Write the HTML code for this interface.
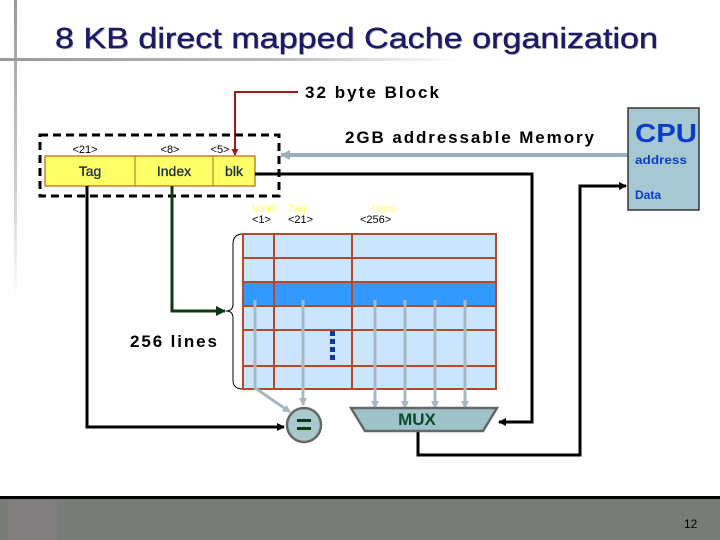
<!DOCTYPE html>
<html><head><meta charset="utf-8"><style>
body{margin:0;width:720px;height:540px;overflow:hidden;background:#fff;font-family:"Liberation Sans",Arial,sans-serif;}
</style></head><body>
<svg width="720" height="540" viewBox="0 0 720 540" xmlns="http://www.w3.org/2000/svg" style="position:absolute;left:0;top:0">
<defs>
<linearGradient id="hb" x1="0" x2="1"><stop offset="0" stop-color="#999"/><stop offset="0.6" stop-color="#bbb"/><stop offset="1" stop-color="#fff"/></linearGradient>
<linearGradient id="vb" x1="0" y1="0" x2="0" y2="1"><stop offset="0" stop-color="#999"/><stop offset="0.6" stop-color="#ccc"/><stop offset="1" stop-color="#fff"/></linearGradient>
<marker id="ab" markerWidth="8" markerHeight="8" refX="7" refY="4" orient="auto" markerUnits="userSpaceOnUse"><path d="M0,0 L8,4 L0,8 z" fill="#000"/></marker>
<marker id="ag" markerWidth="10" markerHeight="10" refX="9" refY="5" orient="auto" markerUnits="userSpaceOnUse"><path d="M0,0 L10,5 L0,10 z" fill="#0a3a10"/></marker>
<marker id="ar" markerWidth="7" markerHeight="7" refX="6" refY="3.5" orient="auto" markerUnits="userSpaceOnUse"><path d="M0,0 L7,3.5 L0,7 z" fill="#9a1a1a"/></marker>
<marker id="agr" markerWidth="8" markerHeight="8" refX="7" refY="4" orient="auto" markerUnits="userSpaceOnUse"><path d="M0,0 L8,4 L0,8 z" fill="#a8b8c0"/></marker>
<marker id="abl" markerWidth="10" markerHeight="10" refX="9" refY="5" orient="auto" markerUnits="userSpaceOnUse"><path d="M0,0 L10,5 L0,10 z" fill="#9ab0bc"/></marker>
</defs>
<rect x="14" y="0" width="3" height="300" fill="url(#vb)"/>
<rect x="0" y="58" width="460" height="3" fill="url(#hb)"/>
<text x="56" y="49" font-size="29" fill="#bbb" textLength="603" lengthAdjust="spacingAndGlyphs">8 KB direct mapped Cache organization</text>
<text x="55" y="48" font-size="29" fill="#1a1a66" stroke="#1a1a66" stroke-width="0.4" textLength="603" lengthAdjust="spacingAndGlyphs">8 KB direct mapped Cache organization</text>

<polyline points="298,92 235,92 235,155" fill="none" stroke="#9a1a1a" stroke-width="2" marker-end="url(#ar)"/>
<text x="305" y="98" font-size="17" font-weight="bold" textLength="134">32 byte Block</text>
<text x="345" y="143" font-size="17" font-weight="bold" textLength="249">2GB addressable Memory</text>

<rect x="40" y="135" width="239" height="61" fill="none" stroke="#000" stroke-width="3" stroke-dasharray="8,5"/>
<rect x="45" y="156" width="210" height="30" fill="#ffff66" stroke="#c0601a" stroke-width="1.2"/>
<line x1="135" y1="156" x2="135" y2="186" stroke="#c0601a"/>
<line x1="213" y1="156" x2="213" y2="186" stroke="#c0601a"/>
<g font-size="11" text-anchor="middle"><text x="85" y="153">&lt;21&gt;</text><text x="170" y="153">&lt;8&gt;</text><text x="220" y="153">&lt;5&gt;</text></g>
<g font-size="14" text-anchor="middle" fill="#1a2a4a" stroke="#1a2a4a" stroke-width="0.3"><text x="90" y="176">Tag</text><text x="174" y="176">Index</text><text x="234" y="176">blk</text></g>

<line x1="628" y1="155" x2="281" y2="155" stroke="#9ab0bc" stroke-width="4" marker-end="url(#abl)"/>
<rect x="628" y="108" width="71" height="102" fill="#a6c8d2" stroke="#333" stroke-width="1.5"/>
<text x="635" y="142" font-size="26" font-weight="bold" fill="#0a3cc8" textLength="62" lengthAdjust="spacingAndGlyphs">CPU</text>
<text x="635" y="164" font-size="12" font-weight="bold" fill="#0a3cc8" textLength="52" lengthAdjust="spacingAndGlyphs">address</text>
<text x="635" y="199" font-size="12" font-weight="bold" fill="#0a3cc8">Data</text>

<polyline points="255,174 532,174 532,422 499,422" fill="none" stroke="#000" stroke-width="3" marker-end="url(#ab)"/>
<polyline points="418,431 418,455 580,455 580,186 626,186" fill="none" stroke="#000" stroke-width="3" marker-end="url(#ab)"/>
<polyline points="87,186 87,427 284,427" fill="none" stroke="#000" stroke-width="3" marker-end="url(#ab)"/>
<polyline points="172,186 172,311 225,311" fill="none" stroke="#0a3a10" stroke-width="3" marker-end="url(#ag)"/>

<text x="130" y="347" font-size="17" font-weight="bold" textLength="87">256 lines</text>

<g font-size="11">
<text x="252" y="212" fill="#ffff66">Valid</text><text x="288" y="212" fill="#ffff66">Tag</text><text x="372" y="212" fill="#ffff66">Data</text>
<text x="252" y="223">&lt;1&gt;</text><text x="288" y="223">&lt;21&gt;</text><text x="360" y="223">&lt;256&gt;</text>
</g>

<path d="M243,234 Q233,234 233,244 L233,304 Q233,311 226,311 Q233,311 233,318 L233,380 Q233,389 243,389" fill="none" stroke="#000" stroke-width="1"/>

<rect x="243" y="234" width="253" height="155" fill="#cce5ff"/>
<rect x="243" y="282" width="253" height="24" fill="#3399ff"/>
<g stroke="#b5492a" stroke-width="2" fill="none">
<rect x="243" y="234" width="253" height="155"/>
<line x1="243" y1="258" x2="496" y2="258"/><line x1="243" y1="282" x2="496" y2="282"/><line x1="243" y1="306" x2="496" y2="306"/><line x1="243" y1="330" x2="496" y2="330"/><line x1="243" y1="366" x2="496" y2="366"/>
<line x1="274" y1="234" x2="274" y2="389"/><line x1="352" y1="234" x2="352" y2="389"/>
</g>
<g fill="#0a3a9a"><rect x="330" y="331" width="5" height="5"/><rect x="330" y="339" width="5" height="5"/><rect x="330" y="347" width="5" height="5"/><rect x="330" y="355" width="5" height="5"/></g>

<g stroke="#a8b8c0" stroke-width="3" fill="none">
<polyline points="255,300 255,388 290,412" marker-end="url(#agr)"/>
<line x1="303" y1="300" x2="303" y2="405" marker-end="url(#agr)"/>
<line x1="375" y1="300" x2="375" y2="408" marker-end="url(#agr)"/>
<line x1="405" y1="300" x2="405" y2="408" marker-end="url(#agr)"/>
<line x1="435" y1="300" x2="435" y2="408" marker-end="url(#agr)"/>
<line x1="465" y1="300" x2="465" y2="408" marker-end="url(#agr)"/>
</g>

<circle cx="304" cy="425" r="17" fill="#a9c9cf" stroke="#666" stroke-width="2.5"/>
<rect x="297" y="419" width="14" height="3" fill="#0a3a10"/><rect x="297" y="427" width="14" height="3" fill="#0a3a10"/>

<polygon points="351,408 497,408 483,431 365,431" fill="#9fc3c9" stroke="#666" stroke-width="2.5"/>
<text x="417" y="425" font-size="17" font-weight="bold" fill="#0a4a2a" text-anchor="middle">MUX</text>

<rect x="0" y="496" width="720" height="3" fill="#000"/>
<rect x="0" y="499" width="720" height="41" fill="#777c77"/>
<rect x="8" y="500" width="49" height="40" fill="#817f80"/>
<text x="684" y="528" font-size="12" fill="#000">12</text>
</svg>
</body></html>
